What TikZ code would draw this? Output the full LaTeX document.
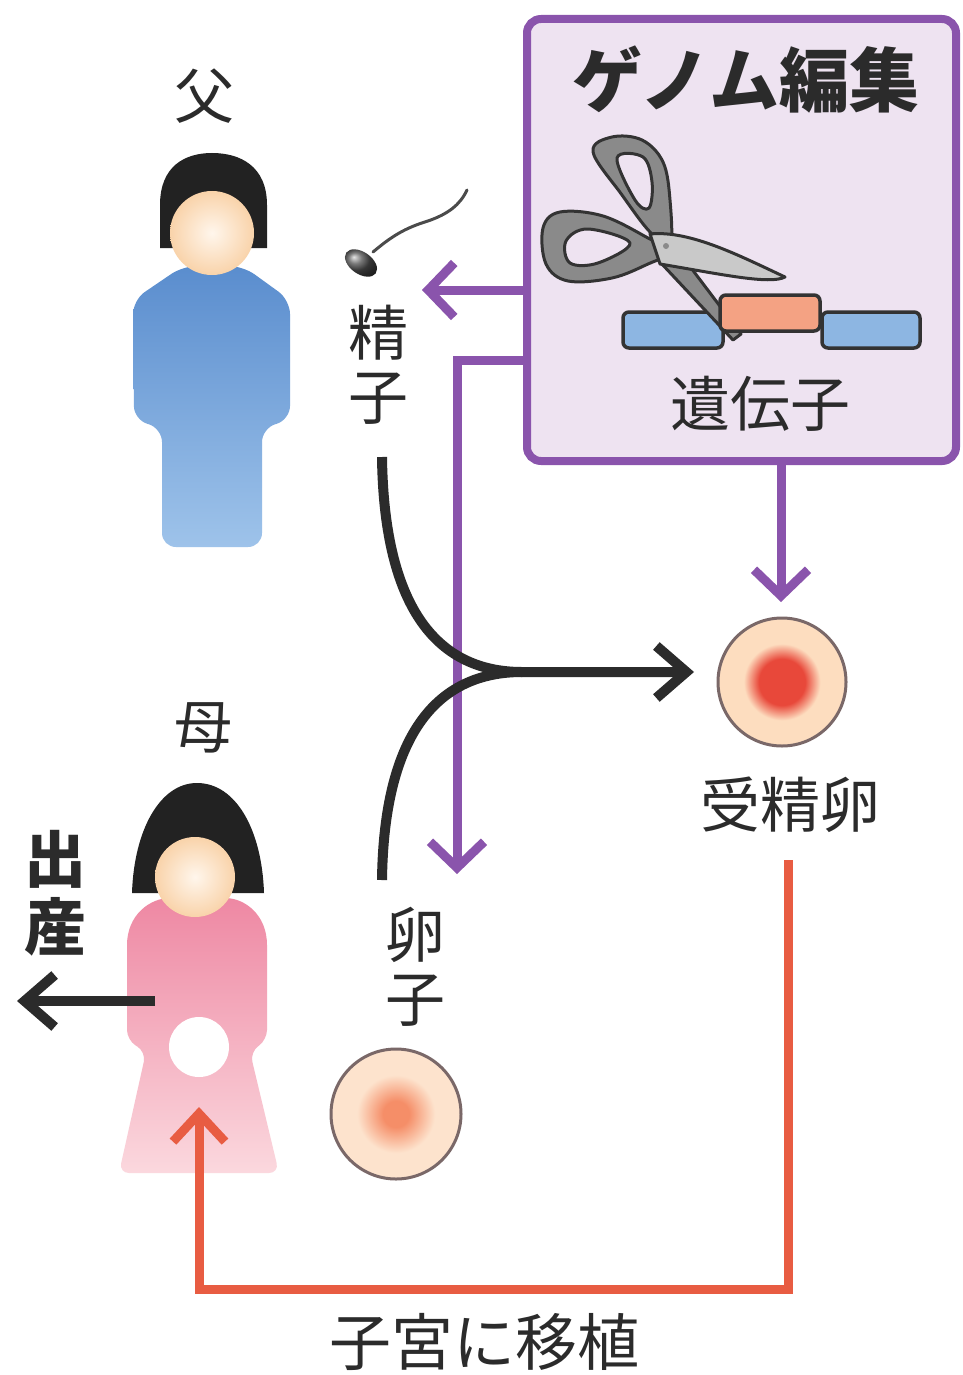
\documentclass[tikz,border=0pt]{standalone}
\usepackage{fontspec}
\setmainfont{Noto Sans CJK JP}
\usetikzlibrary{arrows.meta}

\definecolor{purp}{HTML}{8A54AC}
\definecolor{boxfill}{HTML}{EEE3F1}
\definecolor{ink}{HTML}{2B2B2B}
\definecolor{tangerine}{HTML}{E85C42}
\definecolor{hair}{HTML}{222222}
\definecolor{skinA}{HTML}{FFF6EC}
\definecolor{skinB}{HTML}{F9D3AA}
\definecolor{blueA}{HTML}{5A8DCE}
\definecolor{blueB}{HTML}{9EC3EA}
\definecolor{pinkA}{HTML}{EE88A3}
\definecolor{pinkM}{HTML}{F196AD}
\definecolor{pinkB}{HTML}{FBD8DE}
\definecolor{cellline}{HTML}{7A6868}
\definecolor{zred}{HTML}{E8483A}
\definecolor{zpeach}{HTML}{FDDDBF}
\definecolor{zpeachB}{HTML}{FBD4B2}
\definecolor{eorange}{HTML}{F58E68}
\definecolor{epeach}{HTML}{FDE3CD}
\definecolor{epeachB}{HTML}{FBD6BA}
\definecolor{scdark}{HTML}{8A8A8A}
\definecolor{sclight}{HTML}{C9C9C9}
\definecolor{scline}{HTML}{333333}
\definecolor{genblue}{HTML}{8DB6E2}
\definecolor{gensalmon}{HTML}{F4A283}

% cell shadings: soft nucleus in a peach cytoplasm
\pgfdeclareradialshading{zygoteshade}{\pgfpoint{0bp}{0bp}}{color(0bp)=(zred); color(9bp)=(zred); color(15bp)=(zpeach); color(30bp)=(zpeach); color(36bp)=(zpeachB); color(50bp)=(zpeachB)}
\pgfdeclareradialshading{eggshade}{\pgfpoint{0bp}{0bp}}{color(0bp)=(eorange); color(5bp)=(eorange); color(15bp)=(epeach); color(30bp)=(epeach); color(36bp)=(epeachB); color(50bp)=(epeachB)}

\newcommand{\fs}[1]{\fontsize{#1pt}{#1pt}\selectfont}

\begin{document}
\begin{tikzpicture}[x=1pt,y=-1pt,
  lbl/.style={inner sep=0pt, text=ink},
  purpline/.style={draw=purp, line width=9pt},
  purparrow/.style={purpline, -{Straight Barb[length=26pt,width=54pt]}},
  blackarrow/.style={draw=ink, line width=10pt, -{Straight Barb[length=30pt,width=52pt]}},
  orangearrow/.style={draw=tangerine, line width=9pt, -{Straight Barb[length=28pt,width=52pt]}},
  face/.style={shading=radial, inner color=skinA, outer color=skinB},
  cellrim/.style={draw=cellline, line width=3pt},
  genebar/.style={draw=scline, line width=3.5pt, rounded corners=6pt},
  scissor/.style={draw=scline, line width=3pt, line join=round}]

\useasboundingbox[fill=white] (0,0) rectangle (963,1375);

% ---------- genome editing panel ----------
\node[draw=purp, line width=8pt, fill=boxfill, rounded corners=14pt,
      minimum width=429pt, minimum height=442pt, inner sep=0pt] (box) at (741.5,240) {};
\node[lbl, font=\fs{70}\bfseries] (gtitle) at (746,80) {ゲノム編集};

% gene segments
\draw[genebar, fill=genblue] (623,312) rectangle (723,348);
\draw[genebar, fill=genblue] (822,312) rectangle (920,348);

% scissors: lower blade and upper handle
\draw[scissor, fill=scdark] (646,247) -- (676,248) -- (741,334) -- (733,340) -- cycle;
\draw[scissor, fill=scdark, even odd rule]
  plot[smooth cycle, tension=0.6] coordinates {(593,152) (612,137) (642,140) (663,162) (670,200) (670,245) (650,232) (622,195)}
  plot[smooth cycle, tension=0.6] coordinates {(617,158) (643,157) (652,182) (649,208) (635,200)};
% left handle and upper blade
\draw[scissor, fill=scdark, even odd rule]
  plot[smooth cycle, tension=0.6] coordinates {(543,228) (560,212) (603,216) (648,238) (670,252) (648,264) (612,278) (568,281) (546,264)}
  plot[smooth cycle, tension=0.6] coordinates {(566,241) (588,229) (630,243) (598,263) (570,263)};
\draw[scissor, fill=sclight] (650,234) .. controls (690,230) and (740,256) .. (785,277)
  .. controls (770,285) and (720,274) .. (660,264) -- cycle;
\fill[scdark] (666,246) circle (3pt);

\draw[genebar, fill=gensalmon] (720,295) rectangle (820,331);
\node[lbl, font=\fs{60}] (gene) at (760,404) {遺伝子};

% ---------- father ----------
\node[lbl, font=\fs{60}] (father) at (204,96) {父};
\shade[top color=blueA, bottom color=blueB, rounded corners=14pt]
  (162,547) -- (162,428) -- (134,420) -- (133,300) -- (183,266) -- (243,266)
  -- (290,300) -- (290,420) -- (262,428) -- (262,547) -- cycle;
\fill[hair] (160,248) -- (160,205) .. controls (160,166) and (185,153) .. (212,153)
  .. controls (240,153) and (267,166) .. (267,205) -- (267,248) -- cycle;
\shade[face] (212,233) circle (42pt);

% sperm
\draw[ink!85, line width=3pt, line cap=round] (373,252) .. controls (392,236) and (405,228) .. (428,221)
  .. controls (448,214) and (460,205) .. (467,190);
\shade[ball color=gray!60!black, rotate around={-35:(361,263)}] (361,263) ellipse (18pt and 11pt);
\node[lbl, font=\fs{60}, align=center] (sperm) at (378,365) {精\\[4pt]子};

% ---------- mother ----------
\node[lbl, font=\fs{58}] (mother) at (203,728) {母};
\shade[top color=pinkA, middle color=pinkM, bottom color=pinkB, rounded corners=10pt]
  (146,1052) -- (119,1173) -- (279,1173) -- (250,1052) -- (267,1040)
  -- (267,955) .. controls (267,915) and (245,898) .. (215,898) -- (180,898)
  .. controls (150,898) and (127,915) .. (127,955) -- (127,1040) -- cycle;
\fill[hair] (132,893) .. controls (134,830) and (160,783) .. (197,783)
  .. controls (236,783) and (262,830) .. (264,893) -- cycle;
\shade[face] (195,877) circle (40pt);
\node[circle, fill=white, minimum size=60pt, inner sep=0pt] (womb) at (199,1047) {};
\node[lbl, font=\fs{62}\bfseries, align=center] (birth) at (55,893) {出\\[6pt]産};

% ---------- cells ----------
\node[circle, cellrim, minimum size=128pt, inner sep=0pt, shading=zygoteshade] (zygote) at (782,682) {};
\node[lbl, font=\fs{60}] (zyglbl) at (790,805) {受精卵};
\node[circle, cellrim, minimum size=130pt, inner sep=0pt, shading=eggshade] (egg) at (396,1114) {};
\node[lbl, font=\fs{60}, align=center] (egglbl) at (415,967) {卵\\[4pt]子};

% ---------- connectors ----------
\coordinate (spermtip) at (422,290);
\coordinate (eggbend) at (457,360);
\coordinate (eggtip) at (457,874);
\coordinate (zygtip) at (781,602);
\draw[purparrow] (spermtip -| box.west) -- (spermtip);
\draw[purparrow] (eggbend -| box.west) -- (eggbend) -- (eggtip);
\draw[purparrow] (zygtip |- box.south) -- (zygtip);

\coordinate (spermtail) at (382,457);
\coordinate (eggtail) at (382,880);
\coordinate (merge) at (522,672);
\coordinate (fusetip) at (694,672);
\draw[ink, line width=10pt] (eggtail) .. controls (384,730) and (440,672) .. (merge);
\draw[blackarrow] (spermtail) .. controls (384,612) and (440,672) .. (merge) -- (fusetip);

\coordinate (birthstart) at (155,1001);
\coordinate (birthtip) at (17,1001);
\draw[blackarrow] (birthstart) -- (birthtip);

\coordinate (transstart) at (788,860);
\coordinate (transbase) at (199,1289);
\coordinate (uterustip) at (199,1107);
\draw[orangearrow] (transstart) -- (transstart |- transbase) -- (transbase) -- (uterustip);
\node[lbl, font=\fs{62}] (translbl) at (484,1342) {子宮に移植};

\end{tikzpicture}
\end{document}
